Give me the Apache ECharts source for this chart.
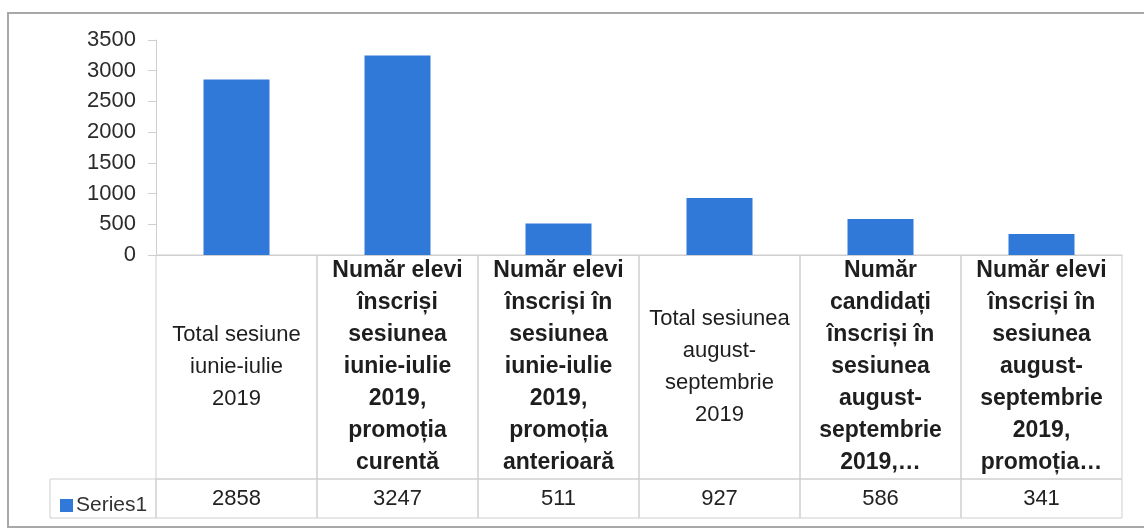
<!DOCTYPE html>
<html>
<head>
<meta charset="utf-8">
<script src="https://cdn.jsdelivr.net/npm/echarts@6/dist/echarts.min.js"></script>
<style>
  html, body { margin: 0; padding: 0; background: #fff; }
  #main { width: 1144px; height: 529px; }
</style>
</head>
<body>
<div id="main"></div>
<script>
let categories = [
    'Total sesiune\niunie-iulie\n2019',
    'Număr elevi\nînscriși\nsesiunea\niunie-iulie\n2019,\npromoția\ncurentă',
    'Număr elevi\nînscriși în\nsesiunea\niunie-iulie\n2019,\npromoția\nanterioară',
    'Total sesiunea\naugust-\nseptembrie\n2019',
    'Număr\ncandidați\nînscriși în\nsesiunea\naugust-\nseptembrie\n2019,…',
    'Număr elevi\nînscriși în\nsesiunea\naugust-\nseptembrie\n2019,\npromoția…'
];
let series1 = [2858, 3247, 511, 927, 586, 341];
let seriesName = 'Series1';

let chart = echarts.init(document.getElementById('main'));

const gridLine = '#cfcfcf';
const barColor = '#3079d8';
const catRowH = 224;

option = {
    animation: false,
    color: [barColor],
    legend: {
        left: 55,
        top: 490,
        icon: 'rect',
        itemWidth: 13,
        itemHeight: 13,
        itemGap: 0,
        textStyle: { fontFamily: 'Liberation Sans', fontSize: 21, color: '#333', padding: [0, 0, 0, -2] },
        data: [seriesName]
    },
    grid: [
        { left: 156, right: 22, top: 40, height: 215 },
        { left: 156, right: 22, top: 255, height: 263 }
    ],
    xAxis: [
        {
            type: 'category',
            gridIndex: 0,
            data: categories,
            axisLine: { lineStyle: { color: gridLine } },
            axisTick: { show: false },
            axisLabel: { show: false }
        },
        {
            type: 'category',
            gridIndex: 1,
            data: categories,
            show: false
        }
    ],
    yAxis: [
        {
            type: 'value',
            gridIndex: 0,
            min: 0,
            max: 3500,
            interval: 500,
            axisLine: { show: true, lineStyle: { color: gridLine } },
            axisTick: { show: true, length: 8, lineStyle: { color: gridLine } },
            splitLine: { show: false },
            axisLabel: {
                margin: 20,
                fontFamily: 'Liberation Sans',
                fontSize: 22,
                color: '#2b2b2b',
                formatter: v => String(v)
            }
        },
        {
            type: 'value',
            gridIndex: 1,
            min: 0,
            max: 1,
            show: false
        }
    ],
    graphic: [
        {
            type: 'rect',
            shape: { x: 8, y: 13, width: 1150, height: 514 },
            style: { fill: null, stroke: '#a8a8a8', lineWidth: 2 },
            silent: true
        },
        {
            type: 'rect',
            shape: { x: 50, y: 479, width: 106, height: 39 },
            style: { fill: null, stroke: gridLine, lineWidth: 1 },
            silent: true
        }
    ],
    series: [
        {
            name: seriesName,
            type: 'bar',
            xAxisIndex: 0,
            yAxisIndex: 0,
            barWidth: 66,
            data: series1
        },
        {
            // data table under the axis
            name: 'table',
            type: 'custom',
            xAxisIndex: 1,
            yAxisIndex: 1,
            silent: true,
            data: series1.map((v, i) => [i, v]),
            renderItem: function (params, api) {
                let idx = api.value(0);
                let top = api.coord([idx, 1]);
                let bottom = api.coord([idx, 0]);
                let w = api.size([1, 0])[0];
                let x0 = top[0] - w / 2;
                let split = top[1] + catRowH;
                let label = categories[idx];
                let bold = label.indexOf('Total') !== 0;
                return {
                    type: 'group',
                    children: [
                        {
                            type: 'rect',
                            shape: { x: x0, y: top[1], width: w, height: catRowH },
                            style: { fill: null, stroke: gridLine, lineWidth: 1 }
                        },
                        {
                            type: 'rect',
                            shape: { x: x0, y: split, width: w, height: bottom[1] - split },
                            style: { fill: null, stroke: gridLine, lineWidth: 1 }
                        },
                        {
                            type: 'text',
                            x: top[0],
                            y: top[1] + catRowH / 2,
                            style: {
                                text: label,
                                align: 'center',
                                verticalAlign: 'middle',
                                lineHeight: 32,
                                fontFamily: 'Liberation Sans',
                                fontWeight: bold ? 'bold' : 'normal',
                                fontSize: bold ? 23 : 22,
                                fill: '#1e1e1e'
                            }
                        },
                        {
                            type: 'text',
                            x: top[0],
                            y: (split + bottom[1]) / 2,
                            style: {
                                text: String(api.value(1)),
                                align: 'center',
                                verticalAlign: 'middle',
                                fontFamily: 'Liberation Sans',
                                fontSize: 22,
                                fill: '#222'
                            }
                        }
                    ]
                };
            }
        }
    ]
};
chart.setOption(option);
</script>
</body>
</html>
